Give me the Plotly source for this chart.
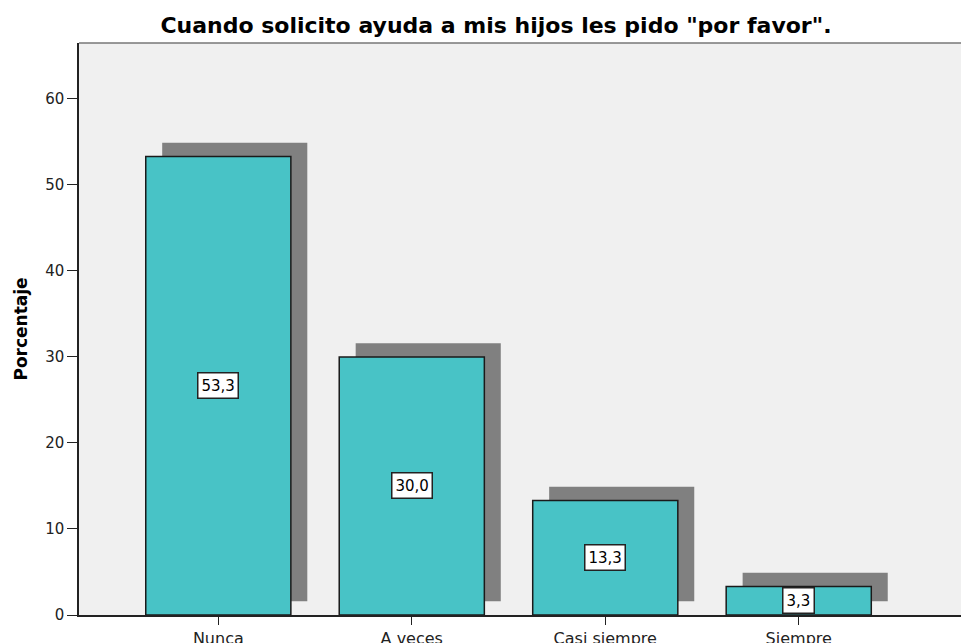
import plotly.graph_objects as go

# data
categorias = ['Nunca', 'A veces', 'Casi siempre', 'Siempre']
porcentajes = [53.3, 30.0, 13.3, 3.3]
etiquetas = ['53,3', '30,0', '13,3', '3,3']

FONT = 'DejaVu Sans'

fig = go.Figure()

# shadow bars (SPSS style drop shadow)
fig.add_trace(go.Bar(x=categorias, y=porcentajes, base=1.6,
                     width=0.75, offset=-0.29,
                     marker=dict(color='#808080', line=dict(width=0)),
                     hoverinfo='skip', showlegend=False))

# main bars
fig.add_trace(go.Bar(x=categorias, y=porcentajes,
                     width=0.75, offset=-0.375,
                     marker=dict(color='#48C3C6', line=dict(color='#1a1a1a', width=1.5)),
                     showlegend=False))

for cat, val, txt in zip(categorias, porcentajes, etiquetas):
    fig.add_annotation(x=cat, y=val / 2, text=txt, showarrow=False,
                       font=dict(family=FONT, size=15, color='black'),
                       bgcolor='white', bordercolor='#222222', borderwidth=1.5, borderpad=3)

# page body adds 8px margin, so the figure is a bit smaller and margins compensated
fig.update_layout(
    barmode='overlay',
    width=961, height=635,
    margin=dict(l=71, r=0, t=35, b=28, autoexpand=False),
    paper_bgcolor='white',
    plot_bgcolor='#F0F0F0',
    title=dict(text='<b>Cuando solicito ayuda a mis hijos les pido "por favor".</b>',
               x=0.4685, xref='paper', xanchor='center',
               y=0.972, yref='container', yanchor='middle',
               font=dict(family=FONT, size=22, color='black')),
    font=dict(family=FONT, size=15, color='#222222'),
)

fig.update_xaxes(range=[-0.72, 3.88], showgrid=False, ticks='outside', ticklen=8,
                 tickcolor='#222222', showline=True, linecolor='#222222', linewidth=1.5,
                 tickfont=dict(size=16), automargin=False)
fig.update_yaxes(range=[0, 66.5], dtick=10, showgrid=False, ticks='outside', ticklen=10,
                 tickcolor='#222222', showline=True, linecolor='#222222', linewidth=1.5,
                 zeroline=False, automargin=False,
                 title=dict(text='<b>Porcentaje</b>', font=dict(family=FONT, size=17, color='black'),
                            standoff=13),
                 tickfont=dict(size=15))

# thin top border of the plot area
fig.add_shape(type='line', xref='paper', yref='paper', x0=0, x1=1, y0=1, y1=1,
              line=dict(color='#777777', width=1.5))

fig.write_html("out.html")
